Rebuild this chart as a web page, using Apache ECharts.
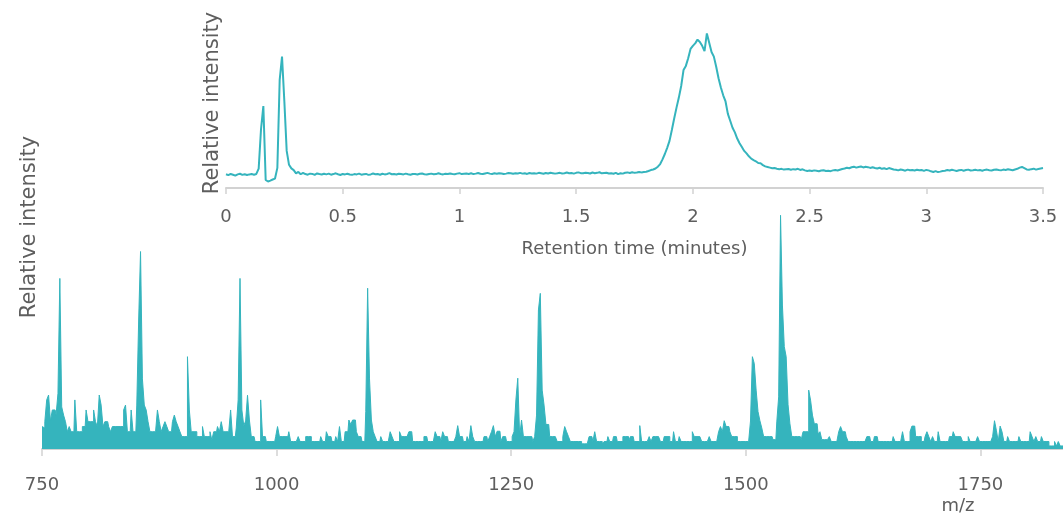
<!DOCTYPE html>
<html>
<head>
<meta charset="utf-8">
<script src="https://cdn.jsdelivr.net/npm/echarts@6/dist/echarts.min.js"></script>
<style>
  html, body { margin: 0; padding: 0; background: #ffffff; }
  #chart { width: 1063px; height: 518px; }
</style>
</head>
<body>
<div id="chart"></div>
<script>
// Mass spectrum profile: relative intensity (base peak = 100), one sample every 2 m/z from 750
const mzStart = 750;
const mzStep = 2;
const spectrumIntensity = [
  9.6, 9, 11.7, 21, 23.1, 12, 16.7, 16.7, 14.5, 23.8, 73, 18, 14.5, 11.7, 7.4, 9.6, 7.4, 7.4, 21, 7.4, 7.4, 7.4, 9.6, 9.6, 16.7,
  11.7, 11.7, 11.7, 16.7, 11.7, 9.6, 23.1, 18.8, 9.6, 11.7, 11.7, 9.6, 7.4, 9.6, 9.6, 9.6, 9.6, 9.6, 9.6, 16.7, 18.8, 7.4, 7.4, 16.7, 7.4,
  7.4, 18.8, 55.2, 84.5, 30, 18.8, 16.7, 11.7, 7.4, 7.4, 7.4, 7.4, 16.7, 11.7, 7.4, 9.6, 11.7, 9.6, 7.4, 7.4, 11.7, 14.5, 11.7, 9.6, 7.4,
  5.3, 5.3, 5.3, 39.5, 16.7, 7.4, 7.4, 7.4, 5.3, 5.3, 5.3, 9.6, 5.3, 5.3, 5.3, 7.4, 3.9, 7.4, 7.4, 9.6, 7.4, 11.7, 7.4, 7.4, 7.4,
  7.4, 16.7, 5.3, 5.3, 9, 21, 73, 16.7, 10, 12, 23, 12.4, 5.3, 5.3, 3.2, 3.2, 3.2, 21, 5.3, 5.3, 3.2, 3.2, 3.2, 3.2, 3.2,
  5.3, 9.6, 5.3, 5.3, 5.3, 5.3, 5.3, 7.4, 3.2, 3.2, 3.2, 3.2, 5.3, 3.2, 3.2, 3.2, 5.3, 5.3, 5.3, 3.2, 3.2, 3.2, 3.2, 3.2, 5.3,
  3.2, 3.2, 7.4, 5.3, 5.3, 3.2, 3.2, 5.3, 3.2, 9.6, 3.2, 3.2, 7.4, 7.4, 12.4, 10.5, 12.4, 12.4, 7.4, 5.3, 5.3, 3.2, 3.2, 16, 68.8,
  30, 12.4, 7.4, 5.3, 3.2, 3.2, 5.3, 3.2, 3.2, 3.2, 3.2, 7.4, 5.3, 3.2, 3.2, 3.2, 7.4, 5.3, 5.3, 5.3, 5.3, 7.4, 7.4, 3.2, 3.2,
  3.2, 3.2, 3.2, 3.2, 5.3, 5.3, 3.2, 3.2, 3.2, 3.2, 7.4, 5.3, 5.3, 3.2, 7.4, 5.3, 5.3, 3.2, 3.2, 3.2, 3.2, 5.3, 10, 5.3, 5.3,
  3.2, 3.2, 5.3, 3.2, 10, 5.3, 3.2, 3.2, 3.2, 3.2, 3.2, 5.3, 5.3, 3.2, 5.3, 7.4, 10, 5.3, 7.6, 7.6, 3.2, 5.3, 5.3, 3.2, 3.2,
  3.2, 5.3, 7.4, 21, 30.3, 5.3, 12.4, 5.3, 5.3, 5.3, 5.3, 5.3, 3.2, 5.3, 14.5, 59.5, 66.6, 25.2, 18.8, 10.5, 10.5, 5.3, 5.3, 5.3, 5.3,
  3.2, 3.2, 3.2, 5.3, 9.6, 7.4, 5.3, 3.2, 3.2, 3.2, 3.2, 3.2, 3.2, 2.2, 2.2, 2.2, 2.2, 5.3, 5.3, 3.2, 7.4, 3.2, 3.2, 3.2, 2.2,
  3.2, 3.2, 5.3, 3.2, 3.2, 5.3, 5.3, 3.2, 3.2, 3.2, 5.3, 5.3, 5.3, 3.2, 5.3, 5.3, 3.2, 3.2, 3.2, 10, 3.2, 3.2, 3.2, 3.2, 5.3,
  3.2, 5.3, 5.3, 5.3, 5.3, 3.2, 3.2, 5.3, 5.3, 5.3, 3.2, 3.2, 7.4, 3.2, 3.2, 5.3, 3.2, 3.2, 3.2, 3.2, 3.2, 3.2, 7.4, 5.3, 5.3,
  5.3, 5.3, 3.2, 3.2, 3.2, 3.2, 5.3, 3.2, 3.2, 3.2, 3.2, 7.4, 9.6, 7.4, 12.1, 9.6, 9.6, 7.4, 5.3, 5.3, 5.3, 3.2, 3.2, 3.2, 3.2,
  3.2, 3.2, 3.2, 12, 39.5, 36.6, 25.2, 16, 12.1, 9, 5.3, 5.3, 5.3, 5.3, 5.3, 4, 4, 11.6, 22.3, 100, 61.6, 43.8, 39.5, 19, 10.8,
  5.3, 5.3, 5.3, 5.3, 5.3, 4, 7.4, 7.4, 7.4, 25.2, 20.9, 14.5, 10.8, 10.8, 6.5, 7.4, 4, 4, 4, 4, 5.3, 3.2, 3.2, 3.2, 3.2,
  7.4, 9.6, 7.4, 7.4, 5.3, 3.2, 3.2, 3.2, 3.2, 3.2, 3.2, 3.2, 3.2, 3.2, 3.2, 5.3, 5.3, 3.2, 3.2, 5.3, 5.3, 3.2, 3.2, 3.2, 3.2,
  3.2, 3.2, 3.2, 3.2, 5.3, 3.2, 3.2, 3.2, 3.2, 7.4, 3.2, 3.2, 3.2, 7.4, 9.8, 9.8, 5.3, 5.3, 5.3, 3.2, 3.2, 5.3, 7.4, 5.3, 3.2,
  5.3, 3.2, 3.2, 7.4, 3.2, 3.2, 3.2, 3.2, 3.2, 5.3, 5.3, 7.4, 5.3, 5.3, 5.3, 5.3, 3.2, 3.2, 3.2, 5.3, 3.2, 3.2, 3.2, 3.2, 5.3,
  3.2, 3.2, 3.2, 3.2, 3.2, 3.2, 3.2, 5.3, 12.1, 8, 3.2, 9.8, 7.4, 3.2, 3.2, 5.3, 3.2, 3.2, 3.2, 3.2, 3.2, 5.3, 3.2, 3.2, 3.2,
  3.2, 3.2, 7.4, 5.3, 3.2, 5.3, 3.2, 3.2, 5.3, 3.2, 3.2, 3.2, 1.3, 1.3, 1.3, 3.2, 1.3, 3.2, 1.3, 1.3
];
const mzMin = 750;
const mzMax = 1838;
const mzTicks = [750, 1000, 1250, 1500, 1750];

// Total ion chromatogram: relative intensity, one sample every 0.01 min from 0
const rtStart = 0;
const rtStep = 0.01;
const chromIntensity = [
  8.9, 8.3, 9.1, 8.6, 8.0, 8.8, 9.2, 8.5, 8.9, 8.4, 8.8, 9.0, 8.6, 9.1,
  12.5, 38, 53, 5.2, 4.2, 4.8, 5.5, 6.1, 13, 70, 85, 56, 24, 15, 12.7, 11.6, 9.5, 10.4, 8.9,
  9.8, 9.0, 8.6, 9.3, 9.1, 8.5, 9.4, 9.0, 8.7, 9.2,
  8.8, 9.3, 8.6, 9.0, 9.5, 8.9, 8.4, 9.1, 8.8, 9.2,
  8.7, 8.5, 9.0, 8.8, 9.3, 8.6, 8.9, 9.1, 8.5, 8.8,
  9.4, 8.9, 9.0, 8.6, 9.2, 8.8, 9.1, 9.6, 8.9, 9.0,
  8.7, 9.2, 9.0, 8.8, 9.3, 8.9, 8.6, 9.1, 9.0, 8.7,
  9.2, 9.4, 8.9, 8.8, 9.1, 9.3, 8.9, 9.0, 9.5, 9.1,
  8.8, 9.2, 9.0, 9.4, 9.1, 8.9, 9.3, 9.6, 9.0, 9.2,
  9.4, 9.1, 9.5, 9.0, 9.3, 9.7, 9.2, 9.0, 9.4, 9.8,
  9.3, 9.1, 9.5, 9.2, 9.6, 9.4, 9.0, 9.3, 9.7, 9.5,
  9.2, 9.6, 9.4, 9.8, 9.3, 9.5, 9.1, 9.7, 9.4, 9.6,
  9.3, 9.8, 9.5, 9.2, 9.7, 9.4, 9.9, 9.6, 9.3, 9.5,
  9.8, 9.4, 9.6, 10.0, 9.5, 9.7, 9.3, 9.8, 10.1, 9.6,
  9.5, 9.9, 9.7, 9.4, 10.0, 9.6, 9.8, 10.2, 9.5, 9.7,
  9.9, 9.4, 9.6, 9.2, 9.8, 9.0, 9.5, 9.3, 9.9, 10.1,
  9.7, 10.2, 9.8, 10.0, 10.4, 10.1, 10.3,
  10.5, 11.0, 11.6, 12.0, 12.6, 13.8, 15.5, 18.5, 22.0, 26.0,
  30.5, 37.5, 45.0, 52.0, 58.5, 66.0, 76.3, 79.0, 84.0, 90.0,
  92.0, 93.6, 96.0, 94.5, 92.0, 88.5, 100.0, 94.0, 88.0, 85.0,
  78.5, 71.0, 65.0, 60.0, 56.0, 48.0, 43.5, 39.0, 36.0, 32.0,
  29.0, 26.5, 24.0, 22.4, 20.5, 19.0, 18.1, 17.3, 16.2, 16.0,
  14.8, 14.0, 13.6, 13.2, 12.8, 12.9, 12.5, 12.2, 12.4, 11.9,
  12.1, 12.3, 11.8, 12.2, 12.0, 12.4, 11.7, 12.1, 11.4, 11.0,
  11.3,
  11.0, 11.4, 11.1, 10.8, 11.3, 11.5, 11.0, 11.2, 10.9, 11.4, 11.6, 11.3,
  11.8, 12.3, 12.6, 13.1, 12.8, 13.4, 13.8, 13.2, 13.6, 13.9, 13.3, 13.7, 13.5, 13.0, 13.4, 12.9,
  12.6, 13.1, 12.4, 12.8, 12.2, 12.9, 12.5, 12.0,
  11.8, 11.4, 12.0, 11.6, 11.2, 11.9, 11.5, 11.7, 11.3, 11.8, 11.5, 11.6, 11.1, 11.7, 11.4,
  10.8, 10.4, 10.9, 10.3, 10.6, 11.0,
  11.2, 11.6, 11.3, 11.8, 11.4, 11.0, 11.5, 11.7, 11.2, 11.6, 11.9, 11.3, 11.5, 11.8, 11.4, 11.6,
  11.2, 11.7, 11.9, 11.5, 11.3, 11.8, 12.0, 11.6, 11.4, 11.9, 11.7, 12.1, 11.8, 11.5, 12.0,
  12.4, 13.2, 13.6, 12.8,
  12.0, 11.8, 12.2, 12.5, 11.9, 12.3, 12.6, 12.9
];
const rtMin = 0;
const rtMax = 3.5;
const rtInterval = 0.5;
const rtTicks = [0, 0.5, 1, 1.5, 2, 2.5, 3, 3.5];

const teal = '#35b4bd';
const textColor = '#5e5e5e';
const axisGray = '#d2d2d2';
const fontFamily = '"DejaVu Sans", Verdana, sans-serif';

const spectrumData = spectrumIntensity.map((v, i) => [mzStart + i * mzStep, v]);
const chromData = chromIntensity.map((v, i) => [+(rtStart + i * rtStep).toFixed(2), v]);

// m/z labels without thousands separators
const plainNumber = (v) => String(v);

const chart = echarts.init(document.getElementById('chart'), null, { renderer: 'canvas' });

chart.setOption({
  animation: false,
  backgroundColor: '#ffffff',
  textStyle: { fontFamily: fontFamily },
  grid: [
    { left: 42, right: 0, top: 5, bottom: 69, containLabel: false, outerBoundsMode: 'none' },
    { left: 226, right: 20, top: 18, bottom: 330, containLabel: false, outerBoundsMode: 'none' }
  ],
  xAxis: [
    {
      type: 'value',
      gridIndex: 0,
      min: mzMin,
      max: mzMax,
      interval: 250,
      offset: 3,
      name: 'm/z',
      nameLocation: 'end',
      nameGap: -105,
      nameMoveOverlap: false,
      nameTextStyle: {
        color: textColor, fontSize: 18, fontFamily: fontFamily,
        align: 'center', verticalAlign: 'top', padding: [48, 0, 0, 0]
      },
      axisLine: { lineStyle: { color: axisGray, width: 2 } },
      axisTick: { customValues: mzTicks, length: 7, lineStyle: { color: axisGray, width: 1.5 } },
      axisLabel: {
        customValues: mzTicks, margin: 24, fontSize: 18, color: textColor, fontFamily: fontFamily,
        formatter: plainNumber
      },
      splitLine: { show: false }
    },
    {
      type: 'value',
      gridIndex: 1,
      position: 'bottom',
      min: rtMin,
      max: rtMax,
      interval: rtInterval,
      name: 'Retention time (minutes)',
      nameLocation: 'middle',
      nameGap: 52,
      nameMoveOverlap: false,
      nameTextStyle: { color: textColor, fontSize: 18, fontFamily: fontFamily },
      axisLine: { lineStyle: { color: axisGray, width: 2 } },
      axisTick: { length: 6, lineStyle: { color: axisGray, width: 1.5 } },
      // tick labels for this axis are placed below as text elements
      axisLabel: { show: false },
      splitLine: { show: false }
    }
  ],
  yAxis: [
    {
      type: 'value',
      gridIndex: 0,
      min: 0,
      max: 190,
      name: 'Relative intensity',
      nameLocation: 'middle',
      nameGap: 2,
      nameMoveOverlap: false,
      nameTextStyle: { color: textColor, fontSize: 21, fontFamily: fontFamily },
      axisLine: { show: false },
      axisTick: { show: false },
      axisLabel: { show: false },
      splitLine: { show: false }
    },
    {
      type: 'value',
      gridIndex: 1,
      min: 0,
      max: 110,
      name: 'Relative intensity',
      nameLocation: 'middle',
      nameGap: 3,
      nameMoveOverlap: false,
      nameTextStyle: { color: textColor, fontSize: 21, fontFamily: fontFamily },
      axisLine: { show: false },
      axisTick: { show: false },
      axisLabel: { show: false },
      splitLine: { show: false }
    }
  ],
  series: [
    {
      type: 'line',
      xAxisIndex: 0,
      yAxisIndex: 0,
      step: 'middle',
      showSymbol: false,
      symbol: 'none',
      lineStyle: { color: teal, width: 1 },
      areaStyle: { color: teal, opacity: 1 },
      silent: true,
      data: spectrumData
    },
    {
      type: 'line',
      xAxisIndex: 1,
      yAxisIndex: 1,
      showSymbol: false,
      symbol: 'none',
      lineStyle: { color: teal, width: 2 },
      silent: true,
      data: chromData
    }
  ]
});

// Retention-time tick labels, positioned through the inset axis scale
const rtAxisY = chart.convertToPixel({ yAxisIndex: 1 }, 0);
chart.setOption({
  graphic: rtTicks.map((t) => ({
    type: 'text',
    x: chart.convertToPixel({ xAxisIndex: 1 }, t),
    y: rtAxisY + 20,
    silent: true,
    style: {
      text: String(t),
      fill: textColor,
      fontSize: 18,
      fontFamily: fontFamily,
      align: 'center',
      verticalAlign: 'top'
    }
  }))
});
</script>
</body>
</html>
